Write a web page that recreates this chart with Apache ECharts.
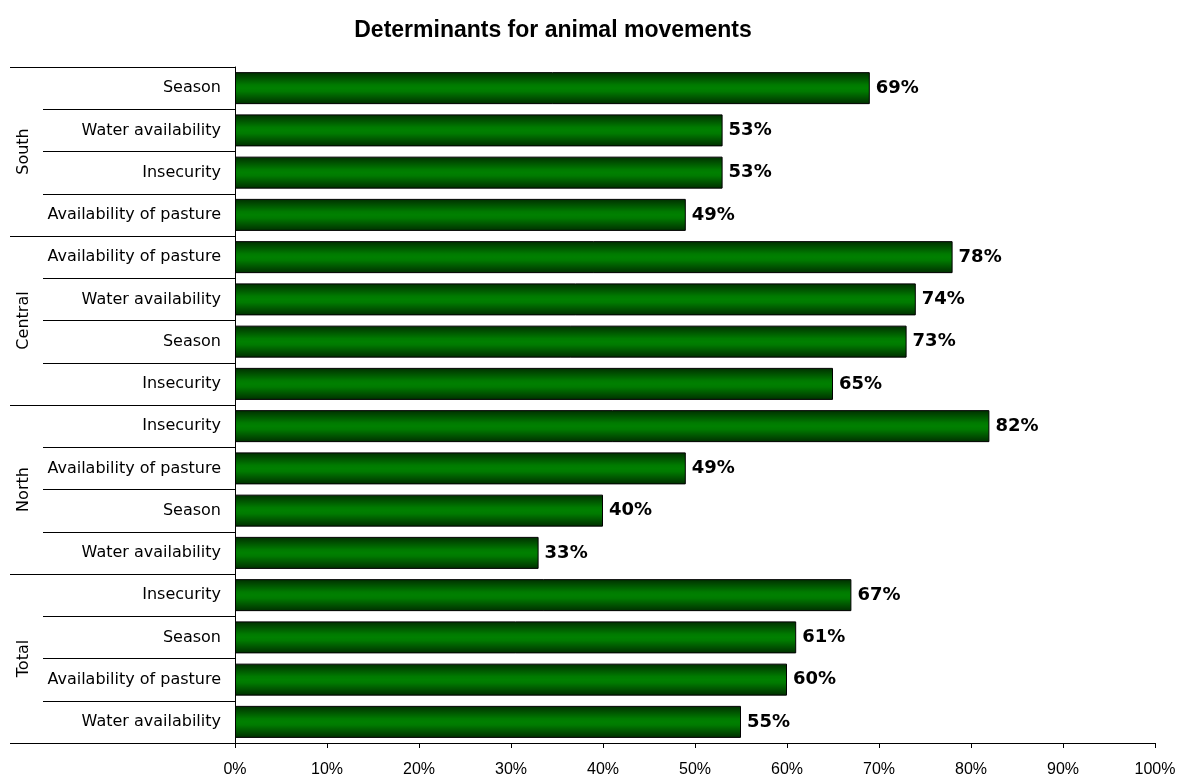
<!DOCTYPE html>
<html>
<head>
<meta charset="utf-8">
<script src="https://cdn.jsdelivr.net/npm/echarts@6/dist/echarts.min.js"></script>
<style>
html,body{margin:0;padding:0;background:#fff;}
#chart{width:1184px;height:778px;}
</style>
</head>
<body>
<div id="chart"></div>
<script>
const title = 'Determinants for animal movements';
const groups = ['South', 'Central', 'North', 'Total'];
const southCats = ['Season', 'Water availability', 'Insecurity', 'Availability of pasture'];
const southVals = [69, 53, 53, 49];
const centralCats = ['Availability of pasture', 'Water availability', 'Season', 'Insecurity'];
const centralVals = [78, 74, 73, 65];
const northCats = ['Insecurity', 'Availability of pasture', 'Season', 'Water availability'];
const northVals = [82, 49, 40, 33];
const totalCats = ['Insecurity', 'Season', 'Availability of pasture', 'Water availability'];
const totalVals = [67, 61, 60, 55];
const xTicks = [0, 10, 20, 30, 40, 50, 60, 70, 80, 90, 100];

const groupCats = [southCats, centralCats, northCats, totalCats];
const groupVals = [southVals, centralVals, northVals, totalVals];
const keys = [];
const values = [];
groups.forEach((g, gi) => {
  groupCats[gi].forEach((c, ci) => {
    keys.push(g + '|' + c);
    values.push(groupVals[gi][ci]);
  });
});

const chart = echarts.init(document.getElementById('chart'), null, {renderer: 'canvas'});
const barGrad = new echarts.graphic.LinearGradient(0, 0, 0, 1, [
  {offset: 0, color: '#002e00'},
  {offset: 0.4, color: '#007a00'},
  {offset: 0.5, color: '#008000'},
  {offset: 0.6, color: '#007a00'},
  {offset: 1, color: '#002e00'}
]);

chart.setOption({
  animation: false,
  backgroundColor: '#fff',
  title: {
    text: title,
    left: 548,
    textAlign: 'center',
    top: 14,
    textStyle: {fontFamily: 'Liberation Sans, Arial', fontWeight: 'bold', fontSize: 23, color: '#000'}
  },
  grid: {left: 235, right: 29, top: 67, bottom: 33, containLabel: false},
  xAxis: {
    type: 'value',
    min: xTicks[0],
    max: xTicks[xTicks.length - 1],
    interval: xTicks[1] - xTicks[0],
    axisLine: {show: true, lineStyle: {color: '#000', width: 1}},
    axisTick: {show: true, length: 5, lineStyle: {color: '#000'}},
    splitLine: {show: false},
    axisLabel: {
      formatter: '{value}%',
      fontFamily: 'Liberation Sans, Arial',
      fontSize: 16,
      color: '#000',
      margin: 19
    }
  },
  yAxis: [
    {
      type: 'category',
      inverse: true,
      data: keys,
      position: 'left',
      axisLine: {show: true, lineStyle: {color: '#000', width: 1}},
      axisTick: {show: true, interval: 0, length: 192, lineStyle: {color: '#000', width: 1}},
      axisLabel: {
        interval: 0,
        margin: 14,
        fontFamily: 'DejaVu Sans',
        fontSize: 16,
        color: '#000',
        formatter: v => v.split('|')[1]
      }
    },
    {
      type: 'category',
      inverse: true,
      data: groups,
      position: 'left',
      offset: 0,
      axisLine: {show: false},
      axisTick: {show: true, interval: 0, length: 225, lineStyle: {color: '#000', width: 1}},
      axisLabel: {
        interval: 0,
        rotate: 90,
        margin: 203,
        fontFamily: 'DejaVu Sans',
        fontSize: 16,
        color: '#000'
      }
    }
  ],
  series: [{
    type: 'bar',
    yAxisIndex: 0,
    data: values,
    barWidth: 32,
    itemStyle: {color: barGrad, borderColor: '#000', borderWidth: 1},
    label: {
      show: true,
      position: 'right',
      distance: 6,
      formatter: '{c}%',
      fontFamily: 'DejaVu Sans',
      fontWeight: 'bold',
      fontSize: 18,
      color: '#000'
    }
  }]
});
</script>
</body>
</html>
